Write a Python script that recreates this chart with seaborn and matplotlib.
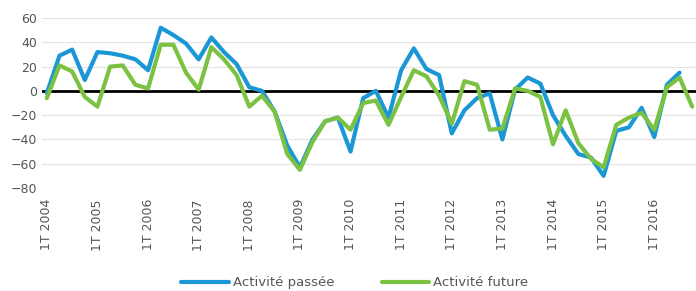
import numpy as np
import pandas as pd
import matplotlib
matplotlib.use("Agg")
import matplotlib.pyplot as plt
import seaborn as sns

# Quarterly survey balances, 1T 2004 -> 4T 2016
years = list(range(2004, 2017))
passee = [-2, 29, 34, 9, 32, 31, 29, 26, 17, 52, 46, 39, 26, 44, 32, 22,
          3, 0, -17, -45, -63, -40, -25, -22, -50, -6, 0, -22, 17, 35, 18, 13,
          -35, -16, -6, -2, -40, 1, 11, 6, -20, -37, -52, -55, -70, -33, -30, -14,
          -38, 5, 15, np.nan]
future = [-6, 21, 16, -5, -13, 20, 21, 5, 2, 38, 38, 15, 1, 36, 26, 13,
          -13, -4, -17, -52, -65, -42, -25, -22, -32, -10, -8, -28, -5, 17, 12, -4,
          -27, 8, 5, -32, -31, 2, 0, -5, -44, -16, -43, -56, -63, -28, -22, -18,
          -32, 3, 11, -13]

n = len(future)
df = pd.DataFrame({
    "q": list(range(n)) * 2,
    "val": passee + future,
    "serie": ["Activité passée"] * n + ["Activité future"] * n,
})

sns.set_style("white")
plt.rcParams["font.family"] = ["DejaVu Sans"]

fig = plt.figure(figsize=(6.96, 2.91), dpi=100)
ax = fig.add_axes([0.06, 0.354, 0.94, 0.584])

ax.set_ylim(-80, 60)
ax.set_xlim(-0.4, 51.3)
ax.set_yticks(range(-80, 61, 20))
ax.grid(axis="y", color="#e3e3e3", linewidth=0.8)
ax.set_axisbelow(True)
ax.axhline(0, color="black", linewidth=2, zorder=1)

sns.lineplot(data=df, x="q", y="val", hue="serie",
             palette={"Activité passée": "#1b97d5", "Activité future": "#7cc242"},
             linewidth=3, ax=ax, legend=True, zorder=3)
for ln in ax.lines[1:]:
    ln.set_solid_joinstyle("round")

ax.set_xticks(range(0, n, 4))
ax.set_xticklabels([f"1T {y}" for y in years], rotation=90)
ax.tick_params(axis="both", length=0, labelsize=9, labelcolor="#555555")
ax.tick_params(axis="x", pad=8)
ax.set_xlabel("")
ax.set_ylabel("")
for s in ax.spines.values():
    s.set_visible(False)

handles, labels = ax.get_legend_handles_labels()
ax.get_legend().remove()
fig.legend(handles, labels, loc="lower center", bbox_to_anchor=(0.51, -0.035),
           ncol=2, frameon=False, handlelength=3.6, handletextpad=0.3,
           columnspacing=3.6, fontsize=9.5, labelcolor="#555555")

fig.savefig("out.png", dpi=100)
